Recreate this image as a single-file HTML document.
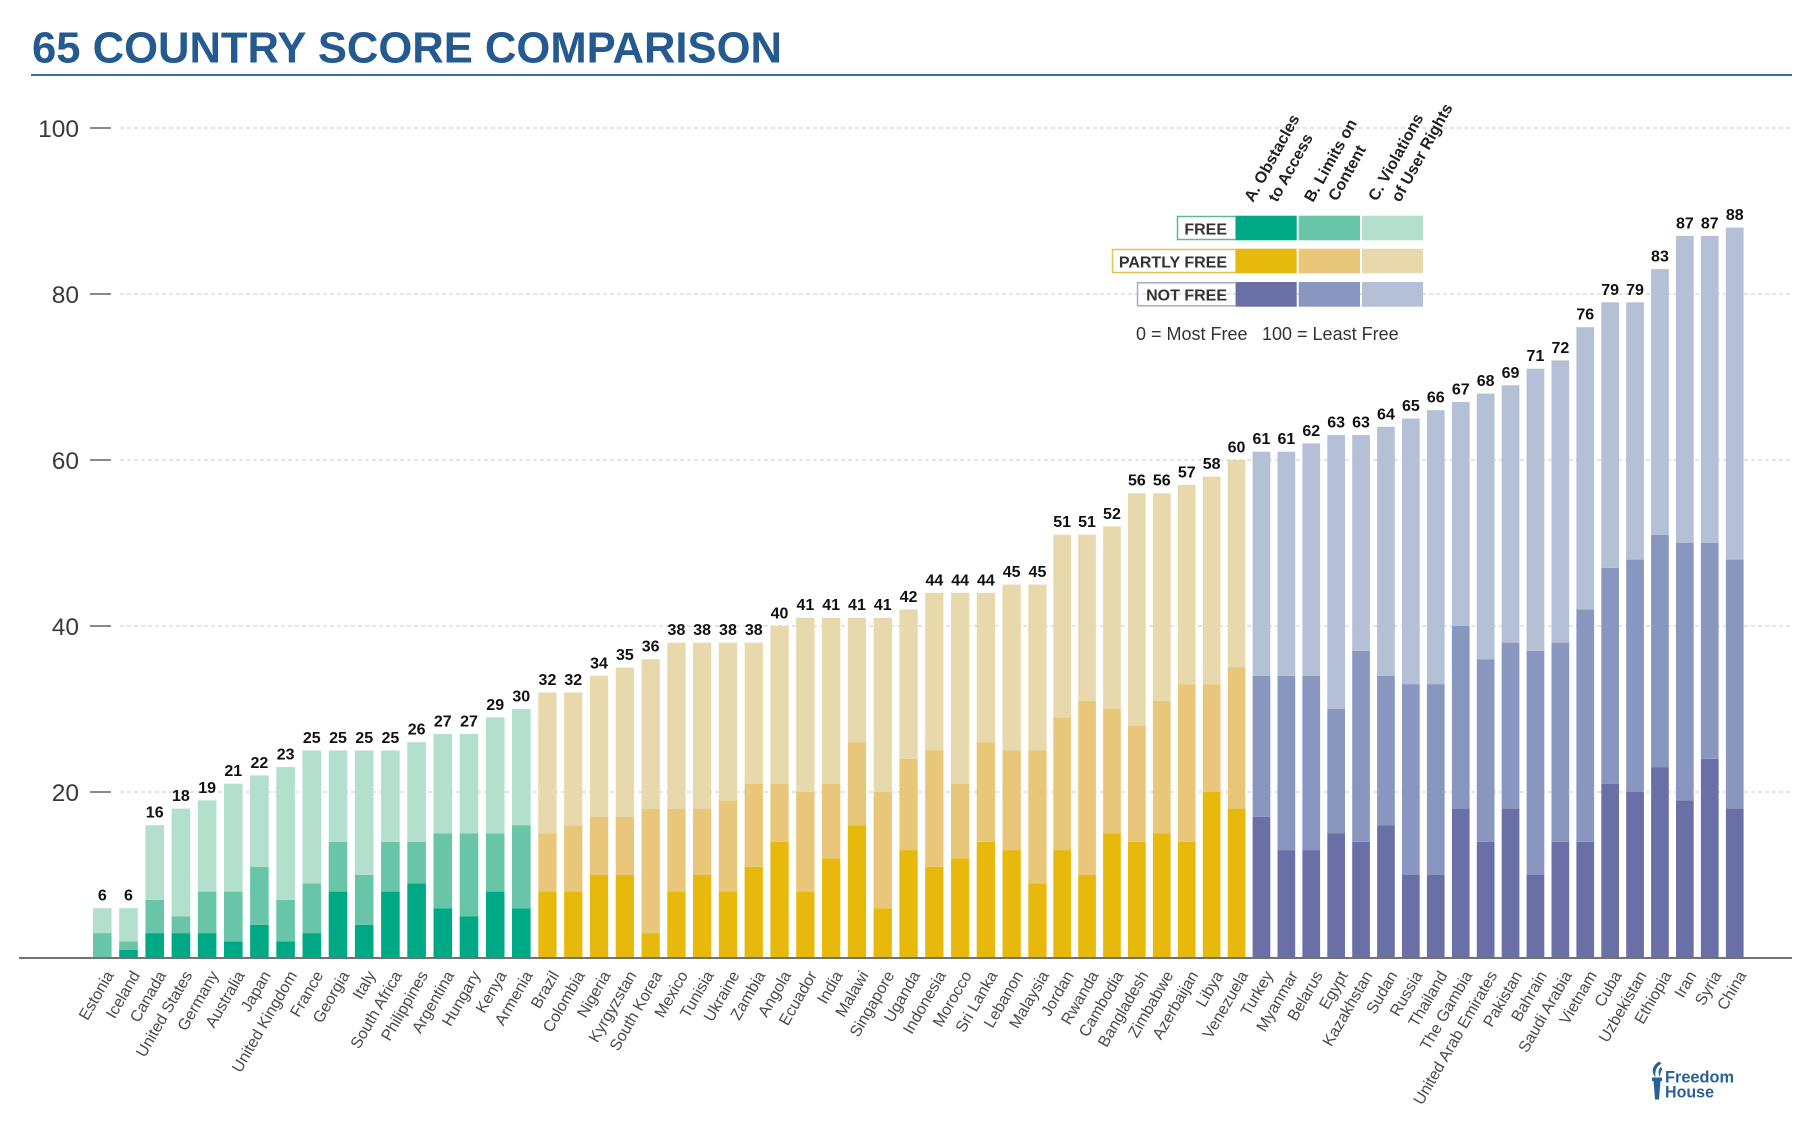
<!DOCTYPE html>
<html><head><meta charset="utf-8"><style>
html,body{margin:0;padding:0;background:#fff;}
svg{display:block;}
text{font-family:"Liberation Sans",sans-serif;}
.F .a{fill:#00a986}.F .b{fill:#69c5a8}.F .c{fill:#b3dfcd}
.P .a{fill:#e8b90d}.P .b{fill:#e9c77a}.P .c{fill:#e8d9ac}
.N .a{fill:#6a70a6}.N .b{fill:#8996c0}.N .c{fill:#b3c0d5}
.sc text{font-weight:bold;font-size:16px;fill:#111;text-anchor:middle;}
.cn text{font-size:16px;fill:#4a4a4a;text-anchor:end;}
.yl text{font-size:24.5px;fill:#3a3a3a;text-anchor:end;}
.hd text{font-weight:bold;font-size:16px;fill:#222;}
</style></head><body>
<svg width="1805" height="1125" viewBox="0 0 1805 1125" xmlns="http://www.w3.org/2000/svg">
<rect width="1805" height="1125" fill="#fff"/>
<text x="32" y="62.5" font-family="'Liberation Sans Narrow','Liberation Sans',sans-serif" font-weight="bold" font-size="44" fill="#245a8f" textLength="750" lengthAdjust="spacingAndGlyphs">65 COUNTRY SCORE COMPARISON</text>
<line x1="31" y1="75" x2="1792" y2="75" stroke="#3d6fa3" stroke-width="2"/>
<g stroke="#c9c9c9" stroke-width="1" stroke-dasharray="4 3">
<line x1="120" y1="128" x2="1792" y2="128"/>
<line x1="120" y1="294" x2="1792" y2="294"/>
<line x1="120" y1="460" x2="1792" y2="460"/>
<line x1="120" y1="626" x2="1792" y2="626"/>
<line x1="120" y1="792" x2="1792" y2="792"/>
</g>
<g stroke="#8a8a8a" stroke-width="2">
<line x1="90" y1="128" x2="111" y2="128"/>
<line x1="90" y1="294" x2="111" y2="294"/>
<line x1="90" y1="460" x2="111" y2="460"/>
<line x1="90" y1="626" x2="111" y2="626"/>
<line x1="90" y1="792" x2="111" y2="792"/>
</g>
<g class="yl">
<text x="79" y="137">100</text>
<text x="79" y="303">80</text>
<text x="79" y="469">60</text>
<text x="79" y="635">40</text>
<text x="79" y="801">20</text>
</g>
<g class="F">
<g transform="translate(93,958) scale(1,-8.3)"><rect width="18.6" height="0" class="a"/><rect y="0" width="18.6" height="3" class="b"/><rect y="3" width="18.6" height="3" class="c"/></g>
<g transform="translate(119.2,958) scale(1,-8.3)"><rect width="18.6" height="1" class="a"/><rect y="1" width="18.6" height="1" class="b"/><rect y="2" width="18.6" height="4" class="c"/></g>
<g transform="translate(145.4,958) scale(1,-8.3)"><rect width="18.6" height="3" class="a"/><rect y="3" width="18.6" height="4" class="b"/><rect y="7" width="18.6" height="9" class="c"/></g>
<g transform="translate(171.6,958) scale(1,-8.3)"><rect width="18.6" height="3" class="a"/><rect y="3" width="18.6" height="2" class="b"/><rect y="5" width="18.6" height="13" class="c"/></g>
<g transform="translate(197.8,958) scale(1,-8.3)"><rect width="18.6" height="3" class="a"/><rect y="3" width="18.6" height="5" class="b"/><rect y="8" width="18.6" height="11" class="c"/></g>
<g transform="translate(224,958) scale(1,-8.3)"><rect width="18.6" height="2" class="a"/><rect y="2" width="18.6" height="6" class="b"/><rect y="8" width="18.6" height="13" class="c"/></g>
<g transform="translate(250.1,958) scale(1,-8.3)"><rect width="18.6" height="4" class="a"/><rect y="4" width="18.6" height="7" class="b"/><rect y="11" width="18.6" height="11" class="c"/></g>
<g transform="translate(276.3,958) scale(1,-8.3)"><rect width="18.6" height="2" class="a"/><rect y="2" width="18.6" height="5" class="b"/><rect y="7" width="18.6" height="16" class="c"/></g>
<g transform="translate(302.5,958) scale(1,-8.3)"><rect width="18.6" height="3" class="a"/><rect y="3" width="18.6" height="6" class="b"/><rect y="9" width="18.6" height="16" class="c"/></g>
<g transform="translate(328.7,958) scale(1,-8.3)"><rect width="18.6" height="8" class="a"/><rect y="8" width="18.6" height="6" class="b"/><rect y="14" width="18.6" height="11" class="c"/></g>
<g transform="translate(354.9,958) scale(1,-8.3)"><rect width="18.6" height="4" class="a"/><rect y="4" width="18.6" height="6" class="b"/><rect y="10" width="18.6" height="15" class="c"/></g>
<g transform="translate(381.1,958) scale(1,-8.3)"><rect width="18.6" height="8" class="a"/><rect y="8" width="18.6" height="6" class="b"/><rect y="14" width="18.6" height="11" class="c"/></g>
<g transform="translate(407.3,958) scale(1,-8.3)"><rect width="18.6" height="9" class="a"/><rect y="9" width="18.6" height="5" class="b"/><rect y="14" width="18.6" height="12" class="c"/></g>
<g transform="translate(433.5,958) scale(1,-8.3)"><rect width="18.6" height="6" class="a"/><rect y="6" width="18.6" height="9" class="b"/><rect y="15" width="18.6" height="12" class="c"/></g>
<g transform="translate(459.7,958) scale(1,-8.3)"><rect width="18.6" height="5" class="a"/><rect y="5" width="18.6" height="10" class="b"/><rect y="15" width="18.6" height="12" class="c"/></g>
<g transform="translate(485.9,958) scale(1,-8.3)"><rect width="18.6" height="8" class="a"/><rect y="8" width="18.6" height="7" class="b"/><rect y="15" width="18.6" height="14" class="c"/></g>
<g transform="translate(512,958) scale(1,-8.3)"><rect width="18.6" height="6" class="a"/><rect y="6" width="18.6" height="10" class="b"/><rect y="16" width="18.6" height="14" class="c"/></g>
</g>
<g class="P">
<g transform="translate(538.3,958) scale(1,-8.3)"><rect width="18.3" height="8" class="a"/><rect y="8" width="18.3" height="7" class="b"/><rect y="15" width="18.3" height="17" class="c"/></g>
<g transform="translate(564.1,958) scale(1,-8.3)"><rect width="18.3" height="8" class="a"/><rect y="8" width="18.3" height="8" class="b"/><rect y="16" width="18.3" height="16" class="c"/></g>
<g transform="translate(589.9,958) scale(1,-8.3)"><rect width="18.3" height="10" class="a"/><rect y="10" width="18.3" height="7" class="b"/><rect y="17" width="18.3" height="17" class="c"/></g>
<g transform="translate(615.7,958) scale(1,-8.3)"><rect width="18.3" height="10" class="a"/><rect y="10" width="18.3" height="7" class="b"/><rect y="17" width="18.3" height="18" class="c"/></g>
<g transform="translate(641.5,958) scale(1,-8.3)"><rect width="18.3" height="3" class="a"/><rect y="3" width="18.3" height="15" class="b"/><rect y="18" width="18.3" height="18" class="c"/></g>
<g transform="translate(667.3,958) scale(1,-8.3)"><rect width="18.3" height="8" class="a"/><rect y="8" width="18.3" height="10" class="b"/><rect y="18" width="18.3" height="20" class="c"/></g>
<g transform="translate(693,958) scale(1,-8.3)"><rect width="18.3" height="10" class="a"/><rect y="10" width="18.3" height="8" class="b"/><rect y="18" width="18.3" height="20" class="c"/></g>
<g transform="translate(718.8,958) scale(1,-8.3)"><rect width="18.3" height="8" class="a"/><rect y="8" width="18.3" height="11" class="b"/><rect y="19" width="18.3" height="19" class="c"/></g>
<g transform="translate(744.6,958) scale(1,-8.3)"><rect width="18.3" height="11" class="a"/><rect y="11" width="18.3" height="10" class="b"/><rect y="21" width="18.3" height="17" class="c"/></g>
<g transform="translate(770.4,958) scale(1,-8.3)"><rect width="18.3" height="14" class="a"/><rect y="14" width="18.3" height="7" class="b"/><rect y="21" width="18.3" height="19" class="c"/></g>
<g transform="translate(796.2,958) scale(1,-8.3)"><rect width="18.3" height="8" class="a"/><rect y="8" width="18.3" height="12" class="b"/><rect y="20" width="18.3" height="21" class="c"/></g>
<g transform="translate(822,958) scale(1,-8.3)"><rect width="18.3" height="12" class="a"/><rect y="12" width="18.3" height="9" class="b"/><rect y="21" width="18.3" height="20" class="c"/></g>
<g transform="translate(847.8,958) scale(1,-8.3)"><rect width="18.3" height="16" class="a"/><rect y="16" width="18.3" height="10" class="b"/><rect y="26" width="18.3" height="15" class="c"/></g>
<g transform="translate(873.6,958) scale(1,-8.3)"><rect width="18.3" height="6" class="a"/><rect y="6" width="18.3" height="14" class="b"/><rect y="20" width="18.3" height="21" class="c"/></g>
<g transform="translate(899.4,958) scale(1,-8.3)"><rect width="18.3" height="13" class="a"/><rect y="13" width="18.3" height="11" class="b"/><rect y="24" width="18.3" height="18" class="c"/></g>
<g transform="translate(925.2,958) scale(1,-8.3)"><rect width="18.3" height="11" class="a"/><rect y="11" width="18.3" height="14" class="b"/><rect y="25" width="18.3" height="19" class="c"/></g>
<g transform="translate(951,958) scale(1,-8.3)"><rect width="18.3" height="12" class="a"/><rect y="12" width="18.3" height="9" class="b"/><rect y="21" width="18.3" height="23" class="c"/></g>
<g transform="translate(976.7,958) scale(1,-8.3)"><rect width="18.3" height="14" class="a"/><rect y="14" width="18.3" height="12" class="b"/><rect y="26" width="18.3" height="18" class="c"/></g>
<g transform="translate(1002.5,958) scale(1,-8.3)"><rect width="18.3" height="13" class="a"/><rect y="13" width="18.3" height="12" class="b"/><rect y="25" width="18.3" height="20" class="c"/></g>
<g transform="translate(1028.3,958) scale(1,-8.3)"><rect width="18.3" height="9" class="a"/><rect y="9" width="18.3" height="16" class="b"/><rect y="25" width="18.3" height="20" class="c"/></g>
<g transform="translate(1053.3,958) scale(1,-8.3)"><rect width="17.7" height="13" class="a"/><rect y="13" width="17.7" height="16" class="b"/><rect y="29" width="17.7" height="22" class="c"/></g>
<g transform="translate(1078.2,958) scale(1,-8.3)"><rect width="17.7" height="10" class="a"/><rect y="10" width="17.7" height="21" class="b"/><rect y="31" width="17.7" height="20" class="c"/></g>
<g transform="translate(1103.1,958) scale(1,-8.3)"><rect width="17.7" height="15" class="a"/><rect y="15" width="17.7" height="15" class="b"/><rect y="30" width="17.7" height="22" class="c"/></g>
<g transform="translate(1128,958) scale(1,-8.3)"><rect width="17.7" height="14" class="a"/><rect y="14" width="17.7" height="14" class="b"/><rect y="28" width="17.7" height="28" class="c"/></g>
<g transform="translate(1152.9,958) scale(1,-8.3)"><rect width="17.7" height="15" class="a"/><rect y="15" width="17.7" height="16" class="b"/><rect y="31" width="17.7" height="25" class="c"/></g>
<g transform="translate(1177.9,958) scale(1,-8.3)"><rect width="17.7" height="14" class="a"/><rect y="14" width="17.7" height="19" class="b"/><rect y="33" width="17.7" height="24" class="c"/></g>
<g transform="translate(1202.8,958) scale(1,-8.3)"><rect width="17.7" height="20" class="a"/><rect y="20" width="17.7" height="13" class="b"/><rect y="33" width="17.7" height="25" class="c"/></g>
<g transform="translate(1227.7,958) scale(1,-8.3)"><rect width="17.7" height="18" class="a"/><rect y="18" width="17.7" height="17" class="b"/><rect y="35" width="17.7" height="25" class="c"/></g>
</g>
<g class="N">
<g transform="translate(1252.6,958) scale(1,-8.3)"><rect width="17.7" height="17" class="a"/><rect y="17" width="17.7" height="17" class="b"/><rect y="34" width="17.7" height="27" class="c"/></g>
<g transform="translate(1277.5,958) scale(1,-8.3)"><rect width="17.7" height="13" class="a"/><rect y="13" width="17.7" height="21" class="b"/><rect y="34" width="17.7" height="27" class="c"/></g>
<g transform="translate(1302.4,958) scale(1,-8.3)"><rect width="17.7" height="13" class="a"/><rect y="13" width="17.7" height="21" class="b"/><rect y="34" width="17.7" height="28" class="c"/></g>
<g transform="translate(1327.3,958) scale(1,-8.3)"><rect width="17.7" height="15" class="a"/><rect y="15" width="17.7" height="15" class="b"/><rect y="30" width="17.7" height="33" class="c"/></g>
<g transform="translate(1352.2,958) scale(1,-8.3)"><rect width="17.7" height="14" class="a"/><rect y="14" width="17.7" height="23" class="b"/><rect y="37" width="17.7" height="26" class="c"/></g>
<g transform="translate(1377.1,958) scale(1,-8.3)"><rect width="17.7" height="16" class="a"/><rect y="16" width="17.7" height="18" class="b"/><rect y="34" width="17.7" height="30" class="c"/></g>
<g transform="translate(1402,958) scale(1,-8.3)"><rect width="17.7" height="10" class="a"/><rect y="10" width="17.7" height="23" class="b"/><rect y="33" width="17.7" height="32" class="c"/></g>
<g transform="translate(1426.9,958) scale(1,-8.3)"><rect width="17.7" height="10" class="a"/><rect y="10" width="17.7" height="23" class="b"/><rect y="33" width="17.7" height="33" class="c"/></g>
<g transform="translate(1451.9,958) scale(1,-8.3)"><rect width="17.7" height="18" class="a"/><rect y="18" width="17.7" height="22" class="b"/><rect y="40" width="17.7" height="27" class="c"/></g>
<g transform="translate(1476.8,958) scale(1,-8.3)"><rect width="17.7" height="14" class="a"/><rect y="14" width="17.7" height="22" class="b"/><rect y="36" width="17.7" height="32" class="c"/></g>
<g transform="translate(1501.7,958) scale(1,-8.3)"><rect width="17.7" height="18" class="a"/><rect y="18" width="17.7" height="20" class="b"/><rect y="38" width="17.7" height="31" class="c"/></g>
<g transform="translate(1526.6,958) scale(1,-8.3)"><rect width="17.7" height="10" class="a"/><rect y="10" width="17.7" height="27" class="b"/><rect y="37" width="17.7" height="34" class="c"/></g>
<g transform="translate(1551.5,958) scale(1,-8.3)"><rect width="17.7" height="14" class="a"/><rect y="14" width="17.7" height="24" class="b"/><rect y="38" width="17.7" height="34" class="c"/></g>
<g transform="translate(1576.4,958) scale(1,-8.3)"><rect width="17.7" height="14" class="a"/><rect y="14" width="17.7" height="28" class="b"/><rect y="42" width="17.7" height="34" class="c"/></g>
<g transform="translate(1601.3,958) scale(1,-8.3)"><rect width="17.7" height="21" class="a"/><rect y="21" width="17.7" height="26" class="b"/><rect y="47" width="17.7" height="32" class="c"/></g>
<g transform="translate(1626.2,958) scale(1,-8.3)"><rect width="17.7" height="20" class="a"/><rect y="20" width="17.7" height="28" class="b"/><rect y="48" width="17.7" height="31" class="c"/></g>
<g transform="translate(1651.1,958) scale(1,-8.3)"><rect width="17.7" height="23" class="a"/><rect y="23" width="17.7" height="28" class="b"/><rect y="51" width="17.7" height="32" class="c"/></g>
<g transform="translate(1676,958) scale(1,-8.3)"><rect width="17.7" height="19" class="a"/><rect y="19" width="17.7" height="31" class="b"/><rect y="50" width="17.7" height="37" class="c"/></g>
<g transform="translate(1700.9,958) scale(1,-8.3)"><rect width="17.7" height="24" class="a"/><rect y="24" width="17.7" height="26" class="b"/><rect y="50" width="17.7" height="37" class="c"/></g>
<g transform="translate(1725.9,958) scale(1,-8.3)"><rect width="17.7" height="18" class="a"/><rect y="18" width="17.7" height="30" class="b"/><rect y="48" width="17.7" height="40" class="c"/></g>
</g>
<line x1="19" y1="958" x2="1792" y2="958" stroke="#727272" stroke-width="2"/>
<g class="sc">
<text x="102.3" y="900.7">6</text>
<text x="128.5" y="900.7">6</text>
<text x="154.7" y="817.7">16</text>
<text x="180.9" y="801.1">18</text>
<text x="207.1" y="792.8">19</text>
<text x="233.3" y="776.2">21</text>
<text x="259.4" y="767.9">22</text>
<text x="285.6" y="759.6">23</text>
<text x="311.8" y="743">25</text>
<text x="338" y="743">25</text>
<text x="364.2" y="743">25</text>
<text x="390.4" y="743">25</text>
<text x="416.6" y="734.7">26</text>
<text x="442.8" y="726.4">27</text>
<text x="469" y="726.4">27</text>
<text x="495.2" y="709.8">29</text>
<text x="521.3" y="701.5">30</text>
<text x="547.45" y="684.9">32</text>
<text x="573.25" y="684.9">32</text>
<text x="599.05" y="668.3">34</text>
<text x="624.85" y="660">35</text>
<text x="650.65" y="651.7">36</text>
<text x="676.45" y="635.1">38</text>
<text x="702.15" y="635.1">38</text>
<text x="727.95" y="635.1">38</text>
<text x="753.75" y="635.1">38</text>
<text x="779.55" y="618.5">40</text>
<text x="805.35" y="610.2">41</text>
<text x="831.15" y="610.2">41</text>
<text x="856.95" y="610.2">41</text>
<text x="882.75" y="610.2">41</text>
<text x="908.55" y="601.9">42</text>
<text x="934.35" y="585.3">44</text>
<text x="960.15" y="585.3">44</text>
<text x="985.85" y="585.3">44</text>
<text x="1011.65" y="577">45</text>
<text x="1037.45" y="577">45</text>
<text x="1062.15" y="527.2">51</text>
<text x="1087.05" y="527.2">51</text>
<text x="1111.95" y="518.9">52</text>
<text x="1136.85" y="485.7">56</text>
<text x="1161.75" y="485.7">56</text>
<text x="1186.75" y="477.4">57</text>
<text x="1211.65" y="469.1">58</text>
<text x="1236.55" y="452.5">60</text>
<text x="1261.45" y="444.2">61</text>
<text x="1286.35" y="444.2">61</text>
<text x="1311.25" y="435.9">62</text>
<text x="1336.15" y="427.6">63</text>
<text x="1361.05" y="427.6">63</text>
<text x="1385.95" y="419.3">64</text>
<text x="1410.85" y="411">65</text>
<text x="1435.75" y="402.7">66</text>
<text x="1460.75" y="394.4">67</text>
<text x="1485.65" y="386.1">68</text>
<text x="1510.55" y="377.8">69</text>
<text x="1535.45" y="361.2">71</text>
<text x="1560.35" y="352.9">72</text>
<text x="1585.25" y="319.7">76</text>
<text x="1610.15" y="294.8">79</text>
<text x="1635.05" y="294.8">79</text>
<text x="1659.95" y="261.6">83</text>
<text x="1684.85" y="228.4">87</text>
<text x="1709.75" y="228.4">87</text>
<text x="1734.75" y="220.1">88</text>
</g>
<g class="cn">
<text transform="translate(114.2,975) rotate(-60)">Estonia</text>
<text transform="translate(140.4,975) rotate(-60)">Iceland</text>
<text transform="translate(166.6,975) rotate(-60)">Canada</text>
<text transform="translate(192.8,975) rotate(-60)">United States</text>
<text transform="translate(219,975) rotate(-60)">Germany</text>
<text transform="translate(245.2,975) rotate(-60)">Australia</text>
<text transform="translate(271.3,975) rotate(-60)">Japan</text>
<text transform="translate(297.5,975) rotate(-60)">United Kingdom</text>
<text transform="translate(323.7,975) rotate(-60)">France</text>
<text transform="translate(349.9,975) rotate(-60)">Georgia</text>
<text transform="translate(376.1,975) rotate(-60)">Italy</text>
<text transform="translate(402.3,975) rotate(-60)">South Africa</text>
<text transform="translate(428.5,975) rotate(-60)">Philippines</text>
<text transform="translate(454.7,975) rotate(-60)">Argentina</text>
<text transform="translate(480.9,975) rotate(-60)">Hungary</text>
<text transform="translate(507.1,975) rotate(-60)">Kenya</text>
<text transform="translate(533.2,975) rotate(-60)">Armenia</text>
<text transform="translate(559.5,975) rotate(-60)">Brazil</text>
<text transform="translate(585.3,975) rotate(-60)">Colombia</text>
<text transform="translate(611.1,975) rotate(-60)">Nigeria</text>
<text transform="translate(636.9,975) rotate(-60)">Kyrgyzstan</text>
<text transform="translate(662.7,975) rotate(-60)">South Korea</text>
<text transform="translate(688.5,975) rotate(-60)">Mexico</text>
<text transform="translate(714.2,975) rotate(-60)">Tunisia</text>
<text transform="translate(740,975) rotate(-60)">Ukraine</text>
<text transform="translate(765.8,975) rotate(-60)">Zambia</text>
<text transform="translate(791.6,975) rotate(-60)">Angola</text>
<text transform="translate(817.4,975) rotate(-60)">Ecuador</text>
<text transform="translate(843.2,975) rotate(-60)">India</text>
<text transform="translate(869,975) rotate(-60)">Malawi</text>
<text transform="translate(894.8,975) rotate(-60)">Singapore</text>
<text transform="translate(920.6,975) rotate(-60)">Uganda</text>
<text transform="translate(946.4,975) rotate(-60)">Indonesia</text>
<text transform="translate(972.2,975) rotate(-60)">Morocco</text>
<text transform="translate(997.9,975) rotate(-60)">Sri Lanka</text>
<text transform="translate(1023.7,975) rotate(-60)">Lebanon</text>
<text transform="translate(1049.5,975) rotate(-60)">Malaysia</text>
<text transform="translate(1074.2,975) rotate(-60)">Jordan</text>
<text transform="translate(1099.1,975) rotate(-60)">Rwanda</text>
<text transform="translate(1124,975) rotate(-60)">Cambodia</text>
<text transform="translate(1148.9,975) rotate(-60)">Bangladesh</text>
<text transform="translate(1173.8,975) rotate(-60)">Zimbabwe</text>
<text transform="translate(1198.8,975) rotate(-60)">Azerbaijan</text>
<text transform="translate(1223.7,975) rotate(-60)">Libya</text>
<text transform="translate(1248.6,975) rotate(-60)">Venezuela</text>
<text transform="translate(1273.5,975) rotate(-60)">Turkey</text>
<text transform="translate(1298.4,975) rotate(-60)">Myanmar</text>
<text transform="translate(1323.3,975) rotate(-60)">Belarus</text>
<text transform="translate(1348.2,975) rotate(-60)">Egypt</text>
<text transform="translate(1373.1,975) rotate(-60)">Kazakhstan</text>
<text transform="translate(1398,975) rotate(-60)">Sudan</text>
<text transform="translate(1422.9,975) rotate(-60)">Russia</text>
<text transform="translate(1447.8,975) rotate(-60)">Thailand</text>
<text transform="translate(1472.8,975) rotate(-60)">The Gambia</text>
<text transform="translate(1497.7,975) rotate(-60)">United Arab Emirates</text>
<text transform="translate(1522.6,975) rotate(-60)">Pakistan</text>
<text transform="translate(1547.5,975) rotate(-60)">Bahrain</text>
<text transform="translate(1572.4,975) rotate(-60)">Saudi Arabia</text>
<text transform="translate(1597.3,975) rotate(-60)">Vietnam</text>
<text transform="translate(1622.2,975) rotate(-60)">Cuba</text>
<text transform="translate(1647.1,975) rotate(-60)">Uzbekistan</text>
<text transform="translate(1672,975) rotate(-60)">Ethiopia</text>
<text transform="translate(1696.9,975) rotate(-60)">Iran</text>
<text transform="translate(1721.8,975) rotate(-60)">Syria</text>
<text transform="translate(1746.8,975) rotate(-60)">China</text>
</g>
<g class="hd">
<text transform="translate(1253,203) rotate(-61)">A. Obstacles</text>
<text transform="translate(1277,203) rotate(-61)">to Access</text>
<text transform="translate(1313,203) rotate(-61)">B. Limits on</text>
<text transform="translate(1337,202) rotate(-61)">Content</text>
<text transform="translate(1377,202) rotate(-61)">C. Violations</text>
<text transform="translate(1400,203) rotate(-61)">of User Rights</text>
</g>
<rect x="1177.5" y="216.5" width="58.5" height="23" fill="none" stroke="#5cb89c" stroke-width="1.5"/>
<rect x="1112.5" y="249.5" width="123.5" height="23" fill="none" stroke="#e5c255" stroke-width="1.5"/>
<rect x="1137.5" y="282.8" width="98.5" height="23" fill="none" stroke="#a7aac8" stroke-width="1.5"/>
<g class="F">
<rect class="a" x="1236" y="215.7" width="60.7" height="24.6"/>
<rect class="b" x="1298.7" y="215.7" width="61.3" height="24.6"/>
<rect class="c" x="1362" y="215.7" width="61" height="24.6"/>
</g>
<g class="P">
<rect class="a" x="1236" y="248.7" width="60.7" height="24.6"/>
<rect class="b" x="1298.7" y="248.7" width="61.3" height="24.6"/>
<rect class="c" x="1362" y="248.7" width="61" height="24.6"/>
</g>
<g class="N">
<rect class="a" x="1236" y="282" width="60.7" height="24.7"/>
<rect class="b" x="1298.7" y="282" width="61.3" height="24.7"/>
<rect class="c" x="1362" y="282" width="61" height="24.7"/>
</g>
<g font-weight="bold" font-size="16" fill="#333" text-anchor="end">
<text x="1227" y="234.3">FREE</text>
<text x="1227" y="267.3">PARTLY FREE</text>
<text x="1227" y="300.6">NOT FREE</text>
</g>
<text x="1136" y="340" font-size="18" fill="#333">0 = Most Free</text>
<text x="1262" y="340" font-size="18" fill="#333">100 = Least Free</text>
<g fill="#2d5f96">
<path d="M1659,1061.5 C1652,1066 1651,1072 1655.5,1077.5 C1654.5,1071 1656.5,1066.5 1661.5,1063.5 Z"/>
<path d="M1660.5,1067 C1658,1070 1658,1074 1660,1077 C1660,1074 1661,1071 1662.5,1069 Z"/>
<rect x="1652" y="1077.5" width="10" height="3.5"/>
<polygon points="1653.5,1081 1660.5,1081 1659,1099.5 1655,1099.5"/>
<text x="1665" y="1082.7" font-weight="bold" font-size="17" textLength="69" lengthAdjust="spacingAndGlyphs">Freedom</text>
<text x="1665" y="1097.3" font-weight="bold" font-size="17" textLength="49" lengthAdjust="spacingAndGlyphs">House</text>
</g>
</svg>
</body></html>
